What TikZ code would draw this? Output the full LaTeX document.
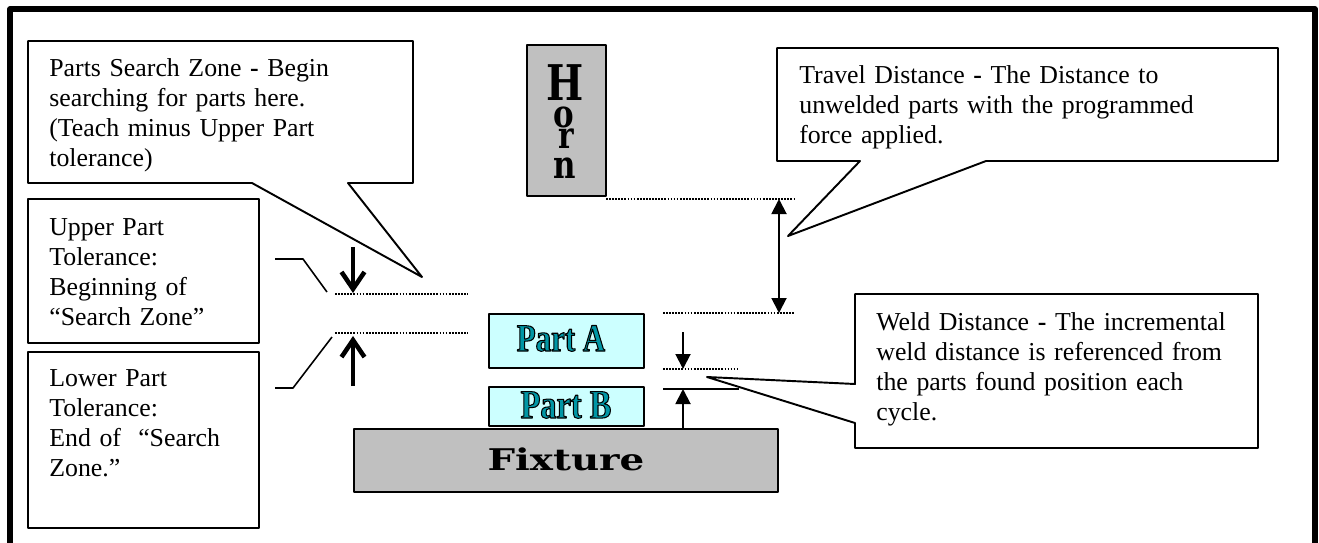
\documentclass[tikz,border=0pt]{standalone}
\usepackage{fontspec}
\setmainfont{Liberation Serif}
\newfontfamily\hornfont[FakeStretch=0.8]{DejaVu Serif}
\newfontfamily\fixfont[FakeStretch=1.3]{DejaVu Serif}
\newfontfamily\partfont[FakeStretch=0.8]{Liberation Serif}
\usetikzlibrary{arrows.meta}
\definecolor{metalgray}{RGB}{192,192,192}
\definecolor{partcyan}{RGB}{204,255,255}
\definecolor{partteal}{RGB}{0,150,165}
% outlined letters for the part labels
\newcommand{\outlinetext}[1]{\special{pdf:literal direct 2 Tr 0.6 w 0 0 0 RG}#1\special{pdf:literal direct 0 Tr}}
\begin{document}
\begin{tikzpicture}[line join=round,x=0.02cm,y=-0.02cm,
	callout/.style={draw=black,fill=white,line width=1.1pt},
	note/.style={anchor=base west,inner sep=0pt,align=left,text width=9cm,
		font=\fontsize{14.7}{17.2}\selectfont},
	hornletter/.style={anchor=base,inner sep=0pt,font=\hornfont\bfseries\fontsize{#1}{#1}\selectfont},
	dotline/.style={line width=1.1pt,dash pattern=on 1pt off 0.75pt},
	leader/.style={line width=0.9pt},
	thinarrow/.style={line width=1.1pt,-{Triangle[length=0.3cm,width=0.3cm]}},
	fatarrow/.style={line width=2.6pt,-{Straight Barb[length=0.34cm,width=0.46cm]}}]
	\useasboundingbox (0,0) rectangle (1319,542);
	% frame
	\draw[line width=3.2pt] (10,9) rectangle (1315,620);

	\coordinate (stip) at (422,277);
	\coordinate (ttip) at (788,236);
	\coordinate (wtip) at (707,377);

	% search zone callout
	\draw[callout] (28,41) -- (413,41) -- (413,183) -- (348,183) -- (stip)
		-- (252,183) -- (28,183) -- cycle;
	\node[note] (searchtxt) at (49,76)
		{Parts Search Zone \textbf{-} Begin\\searching for parts here.\\(Teach minus Upper Part\\tolerance)};

	% tolerance boxes
	\draw[callout] (28,199) rectangle (259,343);
	\node[note] (uppertxt) at (49,235) {Upper Part\\Tolerance:\\Beginning of\\“Search Zone”};
	\draw[callout] (28,352) rectangle (259,528);
	\node[note] (lowertxt) at (49,386) {Lower Part\\Tolerance:\\End of \ “Search\\Zone.”};

	\coordinate (up1) at (275,259);
	\coordinate (up2) at (303,259);
	\coordinate (up3) at (327,292);
	\coordinate (lo1) at (275,388);
	\coordinate (lo2) at (293,388);
	\coordinate (lo3) at (332,337);
	\draw[leader] (up1) -- (up2) -- (up3);
	\draw[leader] (lo1) -- (lo2) -- (lo3);

	% search zone levels
	\draw[dotline] (335,294) -- (468,294);
	\draw[dotline] (335,333) -- (468,333);
	\draw[fatarrow] (353,247) -- (353,293);
	\draw[fatarrow] (353,386) -- (353,336);

	% horn
	\filldraw[fill=metalgray,line width=1.4pt] (527,45) rectangle (606,196);
	\node[hornletter=28] (hornH) at (565,100) {H};
	\node[hornletter=22] (hornO) at (564,127) {o};
	\node[hornletter=21] (hornR) at (566,148) {r};
	\node[hornletter=22] (hornN) at (565,178) {n};

	% travel distance
	\draw[dotline] (606,199) -- (795,199);
	\draw[dotline] (663,313) -- (795,313);
	\draw[line width=1.1pt,{Triangle[length=0.3cm,width=0.3cm]}-{Triangle[length=0.3cm,width=0.3cm]}]
		(779,199) -- (779,313);
	\draw[callout] (777,48) -- (1278,48) -- (1278,161) -- (986,161) -- (ttip)
		-- (860,161) -- (777,161) -- cycle;
	\node[note] (traveltxt) at (799,83)
		{Travel Distance \textbf{-} The Distance to\\unwelded parts with the programmed\\force applied.};

	% parts and fixture
	\filldraw[fill=partcyan,line width=1.1pt] (489,314) rectangle (644,368);
	\node[anchor=base,inner sep=0pt,text=partteal,
		font=\partfont\bfseries\fontsize{22}{24}\selectfont] (partA) at (561,351) {\outlinetext{Part A}};
	\filldraw[fill=partcyan,line width=1.1pt] (489,387) rectangle (644,426);
	\node[anchor=base,inner sep=0pt,text=partteal,
		font=\partfont\bfseries\fontsize{23}{24}\selectfont] (partB) at (566,418) {\outlinetext{Part B}};
	\filldraw[fill=metalgray,line width=1.4pt] (354,429) rectangle (778,492);
	\node[anchor=base,inner sep=0pt,
		font=\fixfont\bfseries\fontsize{17}{20}\selectfont] (fixture) at (566,470) {Fixture};

	% weld distance
	\draw[dotline] (663,369) -- (738,369);
	\draw[line width=1.2pt] (663,389) -- (739,389);
	\draw[thinarrow] (683,332) -- (683,369);
	\draw[thinarrow] (683,429) -- (683,389);
	\draw[callout] (855,294) -- (1258,294) -- (1258,448) -- (855,448) -- (855,423)
		-- (wtip) -- (855,384) -- cycle;
	\node[note] (weldtxt) at (876,330)
		{Weld Distance \textbf{-} The incremental\\weld distance is referenced from\\the parts found position each\\cycle.};
\end{tikzpicture}
\end{document}
